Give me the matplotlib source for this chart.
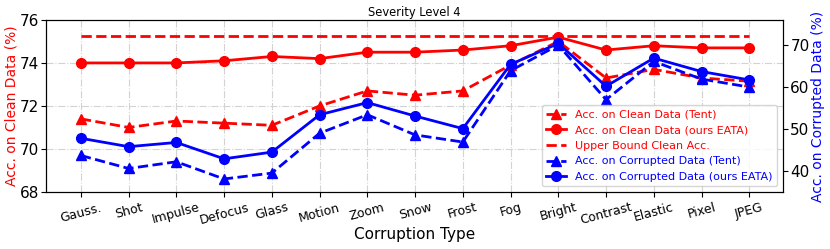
import numpy as np
import matplotlib
matplotlib.use("Agg")
import matplotlib.pyplot as plt

corruptions = ["Gauss.", "Shot", "Impulse", "Defocus", "Glass", "Motion", "Zoom", "Snow",
               "Frost", "Fog", "Bright", "Contrast", "Elastic", "Pixel", "JPEG"]

# точность на чистых данных (левая ось)
clean_tent = [71.4, 71.0, 71.3, 71.2, 71.1, 72.0, 72.7, 72.5, 72.7, 73.9, 75.0, 73.3, 73.7, 73.3, 73.15]
clean_eata = [74.0, 74.0, 74.0, 74.1, 74.3, 74.2, 74.5, 74.5, 74.6, 74.8, 75.2, 74.6, 74.8, 74.7, 74.7]
clean_upper = 75.25

# точность на испорченных данных (правая ось)
corr_tent = [43.7, 40.6, 42.2, 38.1, 39.5, 49.0, 53.4, 48.6, 46.9, 63.9, 70.0, 57.0, 66.1, 61.9, 60.0]
corr_eata = [47.8, 45.8, 46.8, 42.9, 44.5, 53.4, 56.3, 53.1, 50.1, 65.4, 70.4, 60.2, 66.9, 63.7, 61.7]

x = np.arange(len(corruptions))

fig, ax = plt.subplots(figsize=(8.3, 2.49), dpi=100)
fig.subplots_adjust(left=0.056, right=0.943, top=0.92, bottom=0.229)
ax2 = ax.twinx()

l1, = ax.plot(x, clean_tent, "r^--", lw=2, ms=7, label="Acc. on Clean Data (Tent)")
l2, = ax.plot(x, clean_eata, "ro-", lw=2, ms=7, label="Acc. on Clean Data (ours EATA)")
l3, = ax.plot(x, [clean_upper] * len(x), "r--", lw=2, label="Upper Bound Clean Acc.")
l4, = ax2.plot(x, corr_tent, "b^--", lw=2, ms=7, label="Acc. on Corrupted Data (Tent)")
l5, = ax2.plot(x, corr_eata, "bo-", lw=2, ms=7, label="Acc. on Corrupted Data (ours EATA)")

ax.set_xlim(-0.72, 14.7)
ax.set_ylim(68, 76)
ax2.set_ylim(35, 76)
ax.set_yticks([68, 70, 72, 74, 76])
ax2.set_yticks([40, 50, 60, 70])
ax.set_xticks(x)
ax.set_xticklabels(corruptions, rotation=15, fontsize=9)
ax.tick_params(axis="x", pad=3)
ax.tick_params(axis="y", labelsize=11, pad=2)
ax2.tick_params(axis="y", labelsize=11, pad=2)
ax.grid(True, linestyle="-.", color="lightgray", lw=0.8)

ax.set_xlabel("Corruption Type", fontsize=11, labelpad=0)
ax.set_ylabel("Acc. on Clean Data (%)", color="red", fontsize=10, labelpad=1)
ax2.set_ylabel("Acc. on Corrupted Data (%)", color="blue", fontsize=10, labelpad=1)
ax.set_title("Severity Level 4", fontsize=8.3, pad=3)

leg = ax2.legend(handles=[l1, l2, l3, l4, l5], loc="lower right", fontsize=8,
                 handlelength=1.8, bbox_to_anchor=(1.0, 0.0))
for t, c in zip(leg.get_texts(), ["red", "red", "red", "blue", "blue"]):
    t.set_color(c)

plt.savefig("out.png", dpi=100)
